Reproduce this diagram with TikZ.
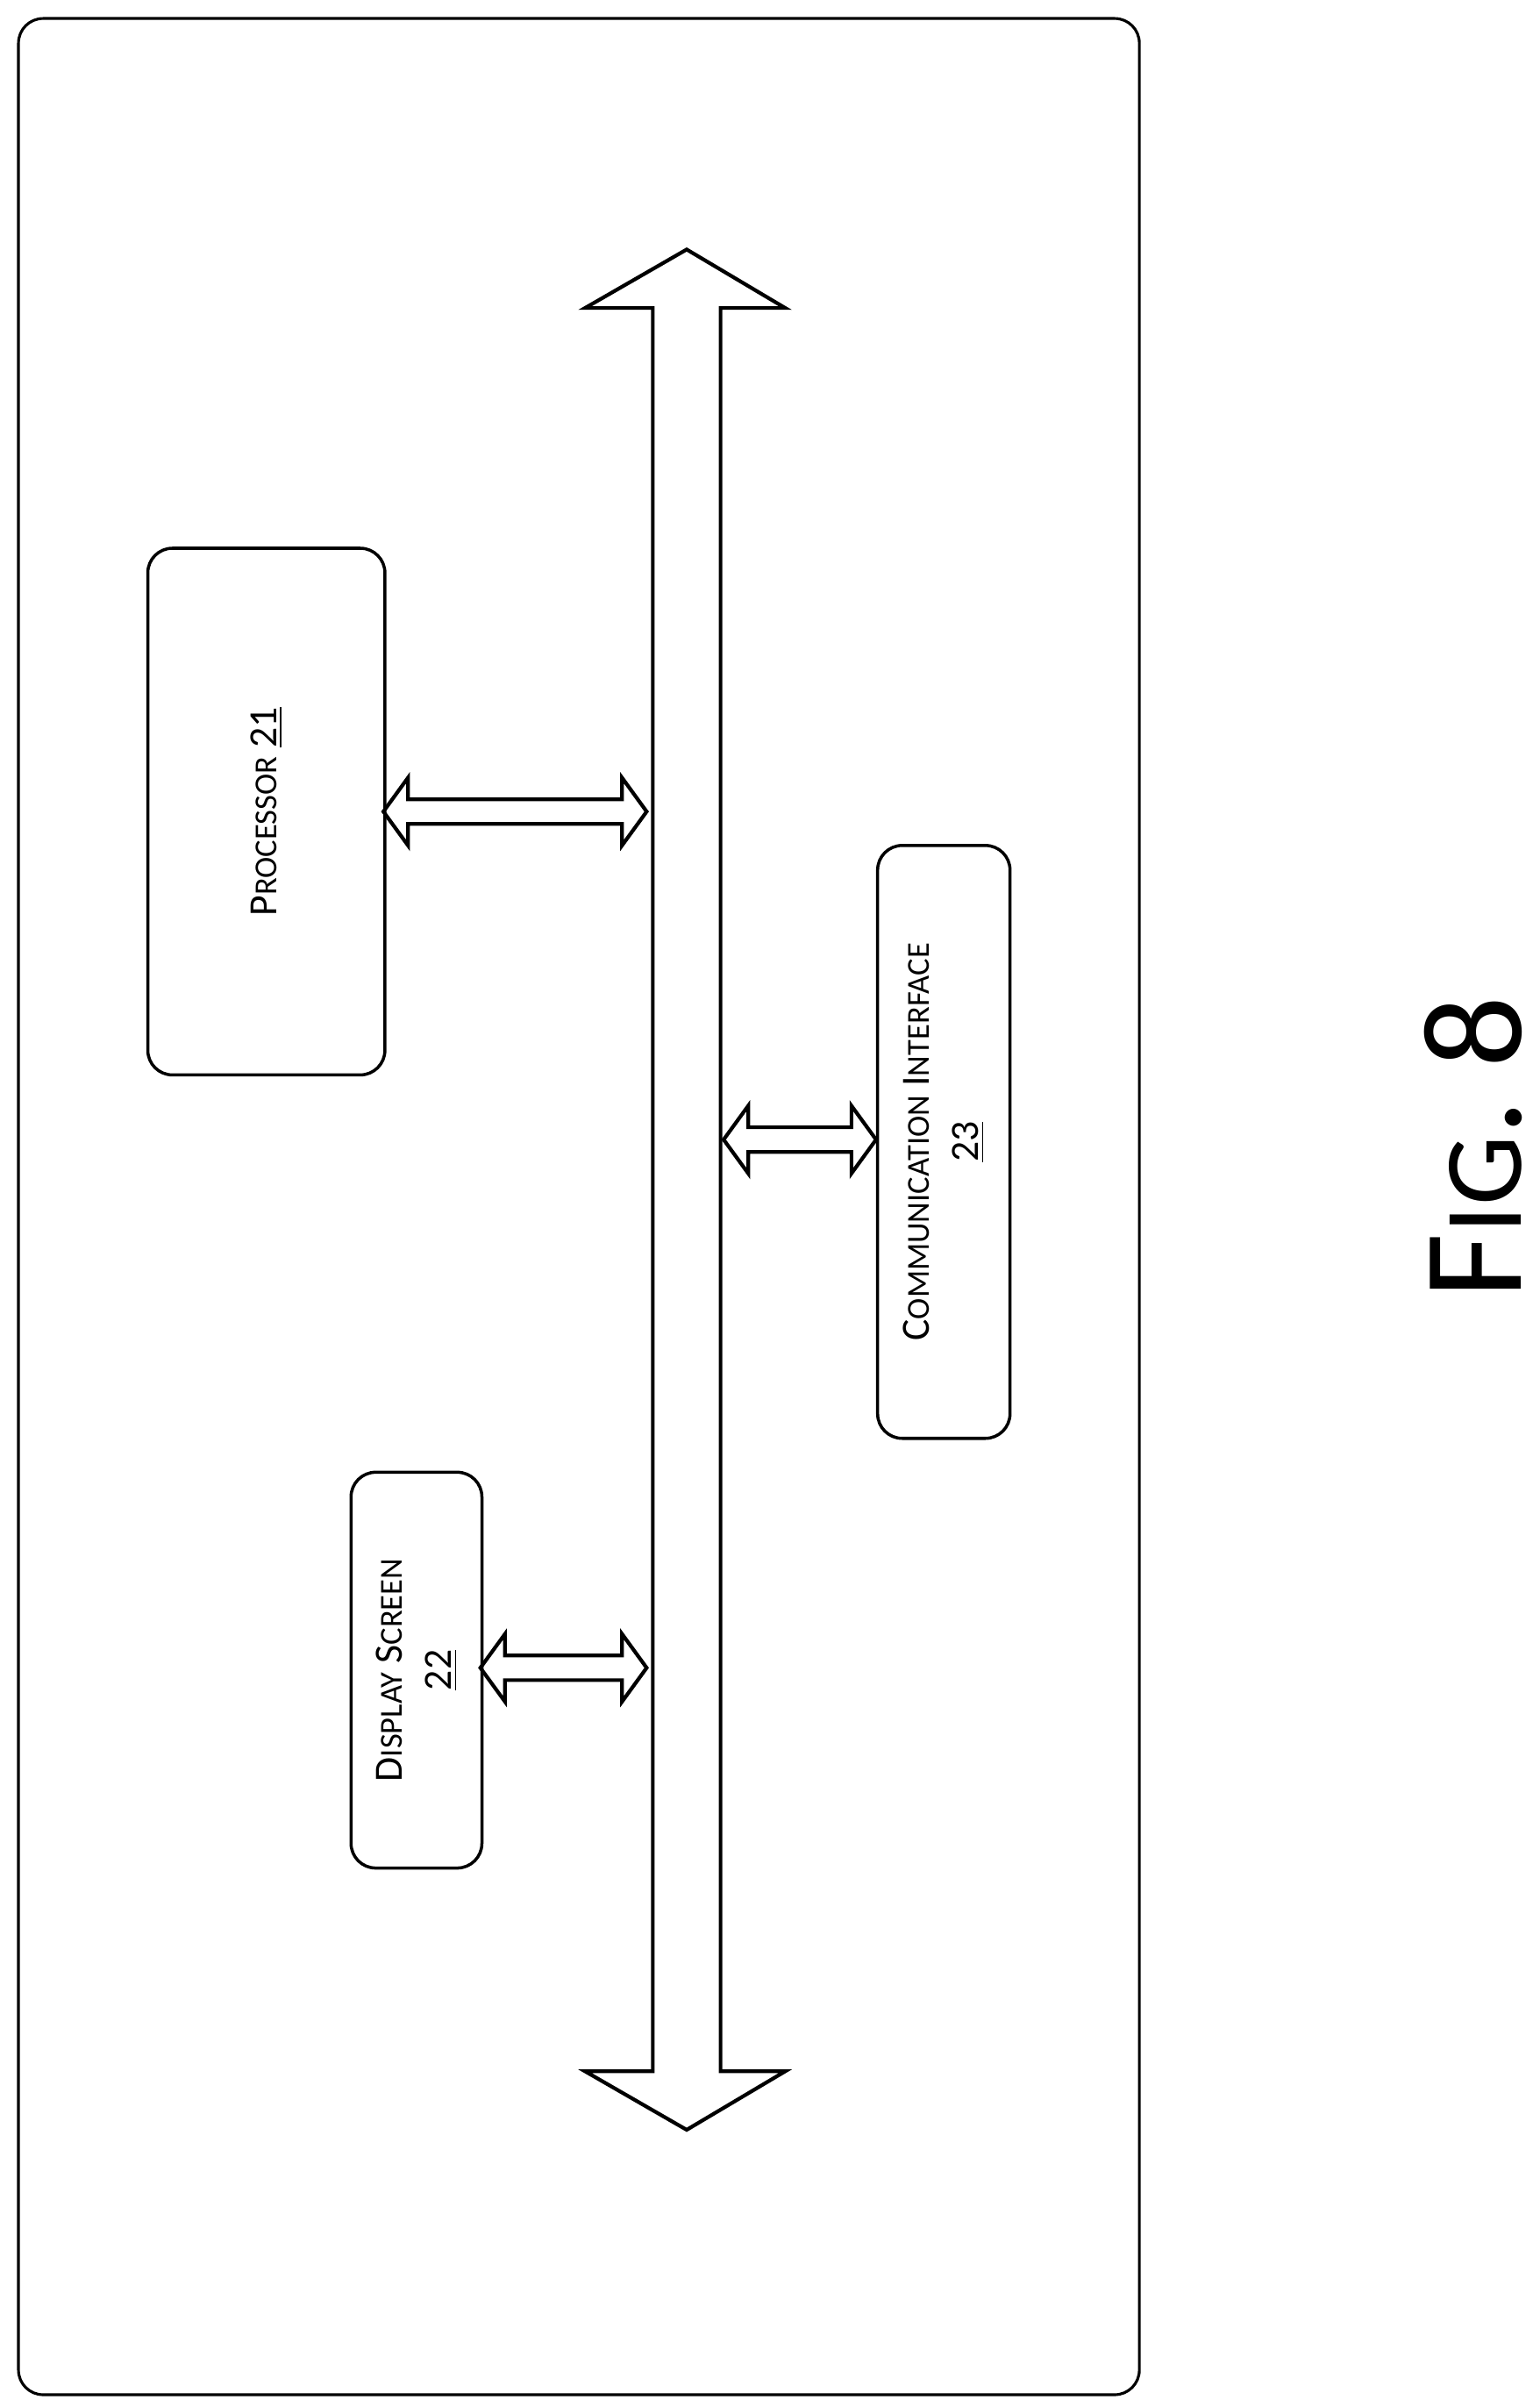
\documentclass[tikz,border=0pt]{standalone}
\usepackage{fontspec}
\setmainfont{Carlito}
\usetikzlibrary{positioning}
\newcommand{\fsc}[2]{#1{\fontsize{10.4}{12}\selectfont #2}}
\begin{document}
\begin{tikzpicture}[x=0.5pt,y=-0.5pt,line width=1.2pt]
\tikzstyle{blk}=[draw,rounded corners=8pt,line width=1pt]
\tikzstyle{lbl}=[font=\fontsize{13}{16}\selectfont,align=center,rotate=90]
\useasboundingbox (0,0) rectangle (1000,1563);
\draw[rounded corners=8pt,line width=0.9pt] (12,12) rectangle (740,1555);
% bus
\draw[line join=miter] (446,162) -- (510,200) -- (468,200) -- (468,1345) -- (510,1345)
  -- (446,1383) -- (380,1345) -- (424,1345) -- (424,200) -- (380,200) -- cycle;
% blocks
\node[blk,minimum width=77pt,minimum height=171pt,anchor=north west] (proc) at (95,355) {};
\node[lbl] at (proc.center) {\fsc{P}{ROCESSOR} \underline{21}};
\node[blk,minimum width=43pt,minimum height=192.5pt,anchor=north west] (comm) at (569,548) {};
\node[lbl] at (comm.center) {\fsc{C}{OMMUNICATION} \fsc{I}{NTERFACE}\\\underline{23}};
\node[blk,minimum width=42.5pt,minimum height=128.5pt,anchor=north west] (disp) at (227,955) {};
\node[lbl] at (disp.center) {\fsc{D}{ISPLAY} \fsc{S}{CREEN}\\\underline{22}};
% links to bus
\foreach \xa/\xb/\yc in {249/420/527, 470/569/740, 312/420/1083}
  \draw[line join=miter] (\xa,\yc) -- (\xa+16,\yc-22) -- (\xa+16,\yc-8) -- (\xb-16,\yc-8)
    -- (\xb-16,\yc-22) -- (\xb,\yc) -- (\xb-16,\yc+22) -- (\xb-16,\yc+8)
    -- (\xa+16,\yc+8) -- (\xa+16,\yc+22) -- cycle;
\node[rotate=90,font=\fontsize{46}{50}\selectfont,inner sep=0pt] (fig) at (957,745)
  {F{\fontsize{36}{40}\selectfont IG}. 8};
\end{tikzpicture}
\end{document}
